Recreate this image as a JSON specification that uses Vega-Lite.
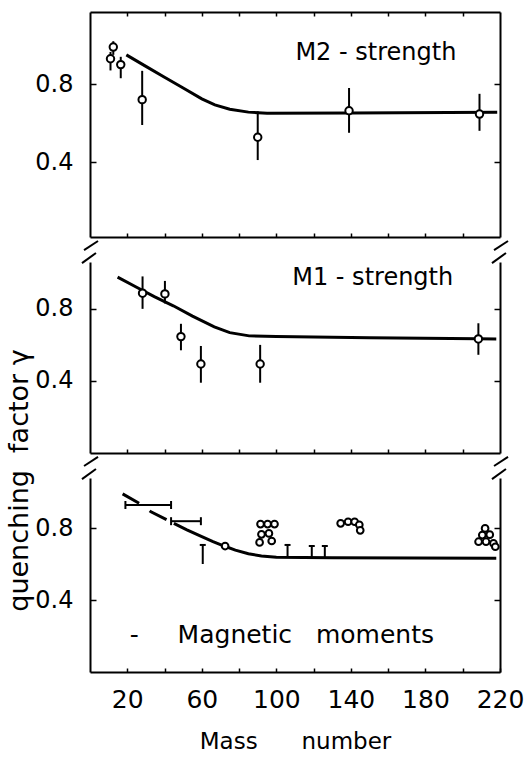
{
  "$schema": "https://vega.github.io/schema/vega-lite/v6.json",
  "background": "white",
  "padding": {"left": 5, "top": 11, "right": 10, "bottom": 0},
  "bounds": "flush",
  "spacing": 25,
  "datasets": {
    "m2_curve": [
      {"A": 19.5, "v": 0.95}, {"A": 30, "v": 0.891}, {"A": 40, "v": 0.835}, {"A": 50, "v": 0.78},
      {"A": 60, "v": 0.724}, {"A": 67, "v": 0.693}, {"A": 75, "v": 0.671}, {"A": 85, "v": 0.656},
      {"A": 95, "v": 0.65}, {"A": 140, "v": 0.652}, {"A": 218.5, "v": 0.655}
    ],
    "m2_pts": [
      {"A": 11, "v": 0.93, "lo": 0.87, "hi": 0.965},
      {"A": 12.5, "v": 0.99, "lo": 0.95, "hi": 1.02},
      {"A": 16.5, "v": 0.9, "lo": 0.83, "hi": 0.94},
      {"A": 28, "v": 0.72, "lo": 0.59, "hi": 0.868},
      {"A": 90, "v": 0.527, "lo": 0.41, "hi": 0.66},
      {"A": 139, "v": 0.663, "lo": 0.55, "hi": 0.78},
      {"A": 209, "v": 0.646, "lo": 0.56, "hi": 0.75}
    ],
    "m1_curve": [
      {"A": 14.8, "v": 0.976}, {"A": 25, "v": 0.92}, {"A": 34.5, "v": 0.868}, {"A": 44.7, "v": 0.817},
      {"A": 55, "v": 0.76}, {"A": 66.7, "v": 0.7}, {"A": 75, "v": 0.668}, {"A": 85.4, "v": 0.65},
      {"A": 100, "v": 0.646}, {"A": 150, "v": 0.64}, {"A": 208, "v": 0.634}, {"A": 218, "v": 0.633}
    ],
    "m1_pts": [
      {"A": 28.2, "v": 0.887, "lo": 0.8, "hi": 0.98},
      {"A": 40.2, "v": 0.883, "lo": 0.83, "hi": 0.955},
      {"A": 48.8, "v": 0.646, "lo": 0.57, "hi": 0.717},
      {"A": 59.5, "v": 0.494, "lo": 0.39, "hi": 0.594},
      {"A": 91.3, "v": 0.494, "lo": 0.39, "hi": 0.6},
      {"A": 208.4, "v": 0.633, "lo": 0.545, "hi": 0.72}
    ],
    "mm_dash": [
      {"A": 17.5, "v": 0.99}, {"A": 26.4, "v": 0.937}, {"A": 32.7, "v": 0.89}, {"A": 41.7, "v": 0.844}
    ],
    "mm_solid": [
      {"A": 45, "v": 0.826}, {"A": 52, "v": 0.79}, {"A": 60, "v": 0.752}, {"A": 66, "v": 0.725},
      {"A": 72, "v": 0.7}, {"A": 78, "v": 0.677}, {"A": 85, "v": 0.657}, {"A": 92, "v": 0.645},
      {"A": 100, "v": 0.638}, {"A": 130, "v": 0.635}, {"A": 218, "v": 0.632}
    ],
    "mm_hbars": [
      {"lo": 19, "hi": 43.5, "v": 0.928},
      {"lo": 43.5, "hi": 59.5, "v": 0.838}
    ],
    "mm_limits": [
      {"A": 60.5, "top": 0.706, "bot": 0.6},
      {"A": 106, "top": 0.706, "bot": 0.638},
      {"A": 119, "top": 0.7, "bot": 0.636},
      {"A": 126, "top": 0.7, "bot": 0.636}
    ],
    "mm_pts": [
      {"A": 72.5, "v": 0.7},
      {"A": 91.5, "v": 0.822}, {"A": 95.3, "v": 0.822}, {"A": 99, "v": 0.822},
      {"A": 92, "v": 0.765}, {"A": 96, "v": 0.77},
      {"A": 91, "v": 0.72}, {"A": 97.5, "v": 0.728},
      {"A": 134.5, "v": 0.826}, {"A": 138.5, "v": 0.835}, {"A": 142, "v": 0.835},
      {"A": 144.5, "v": 0.818}, {"A": 145, "v": 0.787},
      {"A": 212, "v": 0.798}, {"A": 210.5, "v": 0.761}, {"A": 214.5, "v": 0.763},
      {"A": 208.5, "v": 0.724}, {"A": 212.5, "v": 0.724}, {"A": 216.5, "v": 0.715}, {"A": 217.5, "v": 0.696}
    ],
    "brk_top": [
      {"x1": -3.2, "x2": 4.3, "y1": -0.052, "y2": -0.0055},
      {"x1": 216.8, "x2": 224.3, "y1": -0.052, "y2": -0.0055}
    ],
    "brk_mid": [
      {"x1": -4.3, "x2": 3.2, "y1": 1.054, "y2": 1.11},
      {"x1": 215.7, "x2": 223.2, "y1": 1.054, "y2": 1.11},
      {"x1": -3.2, "x2": 4.3, "y1": -0.072, "y2": -0.022},
      {"x1": 216.8, "x2": 224.3, "y1": -0.072, "y2": -0.022}
    ],
    "brk_bot": [
      {"x1": -4.3, "x2": 3.2, "y1": 1.072, "y2": 1.128},
      {"x1": 215.7, "x2": 223.2, "y1": 1.072, "y2": 1.128}
    ]
  },
  "vconcat": [
    {
      "width": 410,
      "height": 225,
      "resolve": {"axis": {"x": "independent", "y": "independent"}},
      "layer": [
        {
          "data": {"name": "m2_curve"},
          "mark": {"type": "line", "color": "black", "strokeWidth": 3},
          "encoding": {
            "x": {"field": "A", "type": "quantitative", "scale": {"domain": [0, 220], "nice": false, "zero": false},
                  "axis": {"orient": "bottom", "values": [20, 40, 60, 80, 100, 120, 140, 160, 180, 200], "tickSize": -4, "labels": false, "title": null}},
            "y": {"field": "v", "type": "quantitative", "scale": {"domain": [0.015, 1.17], "nice": false, "zero": false},
                  "axis": {"orient": "left", "values": [0.4, 0.8], "tickSize": -6, "labelPadding": 23, "format": ".1f", "title": null}}
          }
        },
        {
          "data": {"name": "m2_pts"},
          "mark": {"type": "rule", "color": "black", "strokeWidth": 2},
          "encoding": {
            "x": {"field": "A", "type": "quantitative", "scale": {"domain": [0, 220], "nice": false, "zero": false},
                  "axis": {"orient": "top", "values": [20, 40, 60, 80, 100, 120, 140, 160, 180, 200], "tickSize": -4, "labels": false, "title": null}},
            "y": {"field": "lo", "type": "quantitative", "scale": {"domain": [0.015, 1.17], "nice": false, "zero": false},
                  "axis": {"orient": "right", "values": [0.4, 0.8], "tickSize": -6, "labels": false, "title": null}},
            "y2": {"field": "hi"}
          }
        },
        {
          "data": {"name": "m2_pts"},
          "mark": {"type": "point", "shape": "circle", "filled": true, "fill": "white", "stroke": "black", "strokeWidth": 2, "size": 55, "opacity": 1},
          "encoding": {
            "x": {"field": "A", "type": "quantitative", "axis": null},
            "y": {"field": "v", "type": "quantitative", "axis": null}
          }
        },
        {
          "data": {"values": [{}]},
          "mark": {"type": "text", "fontSize": 24, "align": "center", "baseline": "alphabetic", "color": "black"},
          "encoding": {
            "x": {"datum": 153.4, "type": "quantitative", "axis": null},
            "y": {"datum": 0.924, "type": "quantitative", "axis": null},
            "text": {"value": "M2 - strength"}
          }
        },
        {
          "data": {"name": "brk_top"},
          "mark": {"type": "rule", "color": "black", "strokeWidth": 2},
          "encoding": {
            "x": {"field": "x1", "type": "quantitative", "axis": null},
            "x2": {"field": "x2"},
            "y": {"field": "y1", "type": "quantitative", "axis": null},
            "y2": {"field": "y2"}
          }
        }
      ]
    },
    {
      "width": 410,
      "height": 191,
      "resolve": {"axis": {"x": "independent", "y": "independent"}},
      "layer": [
        {
          "data": {"name": "m1_curve"},
          "mark": {"type": "line", "color": "black", "strokeWidth": 3},
          "encoding": {
            "x": {"field": "A", "type": "quantitative", "scale": {"domain": [0, 220], "nice": false, "zero": false},
                  "axis": {"orient": "bottom", "values": [20, 40, 60, 80, 100, 120, 140, 160, 180, 200], "tickSize": -4, "labels": false, "title": null}},
            "y": {"field": "v", "type": "quantitative", "scale": {"domain": [0, 1.06], "nice": false, "zero": false},
                  "axis": {"orient": "left", "values": [0.4, 0.8], "tickSize": -6, "labelPadding": 23, "format": ".1f",
                           "title": "quenching\u00a0\u00a0factor\u00a0γ", "titleFontSize": 27, "titleY": 218, "titlePadding": 0, "minExtent": 57, "maxExtent": 57}}
          }
        },
        {
          "data": {"name": "m1_pts"},
          "mark": {"type": "rule", "color": "black", "strokeWidth": 2},
          "encoding": {
            "x": {"field": "A", "type": "quantitative", "scale": {"domain": [0, 220], "nice": false, "zero": false}, "axis": null},
            "y": {"field": "lo", "type": "quantitative", "scale": {"domain": [0, 1.06], "nice": false, "zero": false},
                  "axis": {"orient": "right", "values": [0.4, 0.8], "tickSize": -6, "labels": false, "title": null}},
            "y2": {"field": "hi"}
          }
        },
        {
          "data": {"name": "m1_pts"},
          "mark": {"type": "point", "shape": "circle", "filled": true, "fill": "white", "stroke": "black", "strokeWidth": 2, "size": 55, "opacity": 1},
          "encoding": {
            "x": {"field": "A", "type": "quantitative", "axis": null},
            "y": {"field": "v", "type": "quantitative", "axis": null}
          }
        },
        {
          "data": {"values": [{}]},
          "mark": {"type": "text", "fontSize": 24, "align": "center", "baseline": "alphabetic", "color": "black"},
          "encoding": {
            "x": {"datum": 151.7, "type": "quantitative", "axis": null},
            "y": {"datum": 0.932, "type": "quantitative", "axis": null},
            "text": {"value": "M1 - strength"}
          }
        },
        {
          "data": {"name": "brk_mid"},
          "mark": {"type": "rule", "color": "black", "strokeWidth": 2},
          "encoding": {
            "x": {"field": "x1", "type": "quantitative", "axis": null},
            "x2": {"field": "x2"},
            "y": {"field": "y1", "type": "quantitative", "axis": null},
            "y2": {"field": "y2"}
          }
        }
      ]
    },
    {
      "width": 410,
      "height": 194,
      "resolve": {"axis": {"x": "independent", "y": "independent"}},
      "layer": [
        {
          "data": {"name": "mm_solid"},
          "mark": {"type": "line", "color": "black", "strokeWidth": 3},
          "encoding": {
            "x": {"field": "A", "type": "quantitative", "scale": {"domain": [0, 220], "nice": false, "zero": false},
                  "axis": {"orient": "bottom", "values": [20, 40, 60, 80, 100, 120, 140, 160, 180, 200, 220], "tickSize": -4,
                           "labelPadding": 19, "labelFontSize": 25, "labelFlush": false, "labelOverlap": false,
                           "labelExpr": "(datum.value - 20) % 40 === 0 ? datum.label : ''",
                           "title": "Mass\u00a0\u00a0\u00a0\u00a0\u00a0\u00a0number", "titlePadding": 18, "titleFontSize": 23}},
            "y": {"field": "v", "type": "quantitative", "scale": {"domain": [0, 1.078], "nice": false, "zero": false},
                  "axis": {"orient": "left", "values": [0.4, 0.8], "tickSize": -6, "labelPadding": 23, "format": ".1f", "title": null}}
          }
        },
        {
          "data": {"name": "mm_dash"},
          "mark": {"type": "line", "color": "black", "strokeWidth": 3, "strokeDash": [19, 13]},
          "encoding": {
            "x": {"field": "A", "type": "quantitative", "axis": null},
            "y": {"field": "v", "type": "quantitative",
                  "axis": {"orient": "right", "values": [0.4, 0.8], "tickSize": -6, "labels": false, "title": null}}
          }
        },
        {
          "data": {"name": "mm_hbars"},
          "mark": {"type": "rule", "color": "black", "strokeWidth": 2},
          "encoding": {
            "x": {"field": "lo", "type": "quantitative", "axis": null},
            "x2": {"field": "hi"},
            "y": {"field": "v", "type": "quantitative", "axis": null}
          }
        },
        {
          "data": {"name": "mm_hbars"},
          "mark": {"type": "tick", "orient": "vertical", "color": "black", "size": 8, "thickness": 2, "opacity": 1},
          "encoding": {
            "x": {"field": "lo", "type": "quantitative", "axis": null},
            "y": {"field": "v", "type": "quantitative", "axis": null}
          }
        },
        {
          "data": {"name": "mm_hbars"},
          "mark": {"type": "tick", "orient": "vertical", "color": "black", "size": 8, "thickness": 2, "opacity": 1},
          "encoding": {
            "x": {"field": "hi", "type": "quantitative", "axis": null},
            "y": {"field": "v", "type": "quantitative", "axis": null}
          }
        },
        {
          "data": {"name": "mm_limits"},
          "mark": {"type": "rule", "color": "black", "strokeWidth": 2},
          "encoding": {
            "x": {"field": "A", "type": "quantitative", "axis": null},
            "y": {"field": "top", "type": "quantitative", "axis": null},
            "y2": {"field": "bot"}
          }
        },
        {
          "data": {"name": "mm_limits"},
          "mark": {"type": "tick", "orient": "horizontal", "color": "black", "size": 6, "thickness": 2, "opacity": 1},
          "encoding": {
            "x": {"field": "A", "type": "quantitative", "axis": null},
            "y": {"field": "top", "type": "quantitative", "axis": null}
          }
        },
        {
          "data": {"name": "mm_pts"},
          "mark": {"type": "point", "shape": "circle", "filled": true, "fill": "white", "stroke": "black", "strokeWidth": 2, "size": 45, "opacity": 1},
          "encoding": {
            "x": {"field": "A", "type": "quantitative", "axis": null},
            "y": {"field": "v", "type": "quantitative", "axis": null}
          }
        },
        {
          "data": {"values": [{}]},
          "mark": {"type": "text", "fontSize": 25, "align": "center", "baseline": "alphabetic", "color": "black"},
          "encoding": {
            "x": {"datum": 115.8, "type": "quantitative", "axis": null},
            "y": {"datum": 0.161, "type": "quantitative", "axis": null},
            "text": {"value": "Magnetic\u00a0\u00a0\u00a0moments"}
          }
        },
        {
          "data": {"values": [{}]},
          "mark": {"type": "text", "fontSize": 25, "align": "center", "baseline": "alphabetic", "color": "black"},
          "encoding": {
            "x": {"datum": 23.8, "type": "quantitative", "axis": null},
            "y": {"datum": 0.161, "type": "quantitative", "axis": null},
            "text": {"value": "-"}
          }
        },
        {
          "data": {"name": "brk_bot"},
          "mark": {"type": "rule", "color": "black", "strokeWidth": 2},
          "encoding": {
            "x": {"field": "x1", "type": "quantitative", "axis": null},
            "x2": {"field": "x2"},
            "y": {"field": "y1", "type": "quantitative", "axis": null},
            "y2": {"field": "y2"}
          }
        }
      ]
    }
  ],
  "config": {
    "view": {"stroke": null},
    "axis": {
      "domainColor": "black", "domainWidth": 2, "tickColor": "black", "tickWidth": 1.5, "grid": false,
      "labelFont": "DejaVu Sans", "labelColor": "black", "labelFontSize": 24,
      "titleFont": "DejaVu Sans", "titleColor": "black", "titleFontWeight": "normal", "titleFontSize": 25
    },
    "text": {"font": "DejaVu Sans"}
  }
}
